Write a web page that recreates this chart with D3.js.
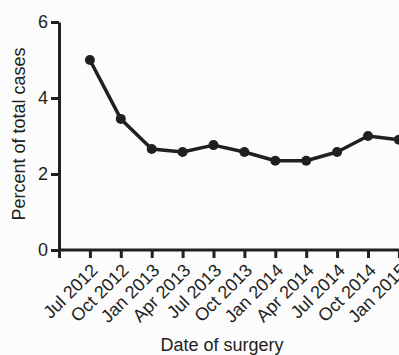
<!DOCTYPE html>
<html><head><meta charset="utf-8">
<script src="https://cdn.jsdelivr.net/npm/d3@7"></script>
<style>
html,body{margin:0;padding:0;background:#fcfcfc;}
svg{display:block;font-family:"Liberation Sans",Arial,sans-serif;}
</style></head>
<body><svg id="c" width="399" height="355"></svg>
<script>
const categories = ["Jul 2012","Oct 2012","Jan 2013","Apr 2013","Jul 2013","Oct 2013","Jan 2014","Apr 2014","Jul 2014","Oct 2014","Jan 2015"];
const percent = [5.0, 3.45, 2.66, 2.58, 2.76, 2.58, 2.35, 2.35, 2.58, 3.0, 2.9];
const yTicks = [0, 2, 4, 6];
const yTitle = "Percent of total cases";
const xTitle = "Date of surgery";

const ink = "#231f20";
const fs = 18;
const svg = d3.select("#c");
const x0 = 59, yBase = 250, yTop = 22;
const x = d3.scalePoint().domain(["", ...categories]).range([x0, 398.9]);
const y = d3.scaleLinear().domain([0, 6]).range([yBase, yTop]);

// Y axis
const ya = svg.append("g").attr("transform", `translate(${x0},0)`)
  .call(d3.axisLeft(y).tickValues(yTicks).tickFormat(d3.format("d")).tickSize(8).tickPadding(3).tickSizeOuter(0));
ya.attr("font-size", null).attr("font-family", null);
ya.select(".domain").attr("stroke", ink).attr("stroke-width", 3);
ya.selectAll(".tick line").attr("stroke", ink).attr("stroke-width", 3);
ya.selectAll(".tick text").attr("fill", ink).style("font-size", fs + "px");

// X axis
const xa = svg.append("g").attr("transform", `translate(0,${yBase})`)
  .call(d3.axisBottom(x).tickSize(8).tickSizeOuter(0));
xa.attr("font-size", null).attr("font-family", null);
xa.select(".domain").attr("d", `M${x0},0H430`).attr("stroke", ink).attr("stroke-width", 3);
xa.selectAll(".tick line").attr("stroke", ink).attr("stroke-width", 3);
xa.selectAll(".tick text")
  .attr("fill", ink).style("font-size", fs + "px")
  .attr("text-anchor", "end")
  .attr("transform", "translate(4,17) rotate(-45)")
  .attr("y", 0).attr("dy", "0.35em").attr("dx", 0);

// Line
const line = d3.line().x((d, i) => x(categories[i])).y(d => y(d));
svg.append("path").datum(percent).attr("d", line)
  .attr("fill", "none").attr("stroke", ink).attr("stroke-width", 3.5).attr("stroke-linejoin", "round");
svg.append("g").selectAll("circle").data(percent).join("circle")
  .attr("cx", (d, i) => x(categories[i])).attr("cy", d => y(d)).attr("r", 5).attr("fill", ink);

// Titles
svg.append("text").attr("transform", "translate(25,134) rotate(-90)")
  .attr("text-anchor", "middle").style("font-size", fs + "px").attr("fill", ink).text(yTitle);
svg.append("text").attr("x", 222).attr("y", 351)
  .attr("text-anchor", "middle").style("font-size", fs + "px").attr("fill", ink).text(xTitle);
</script></body></html>
